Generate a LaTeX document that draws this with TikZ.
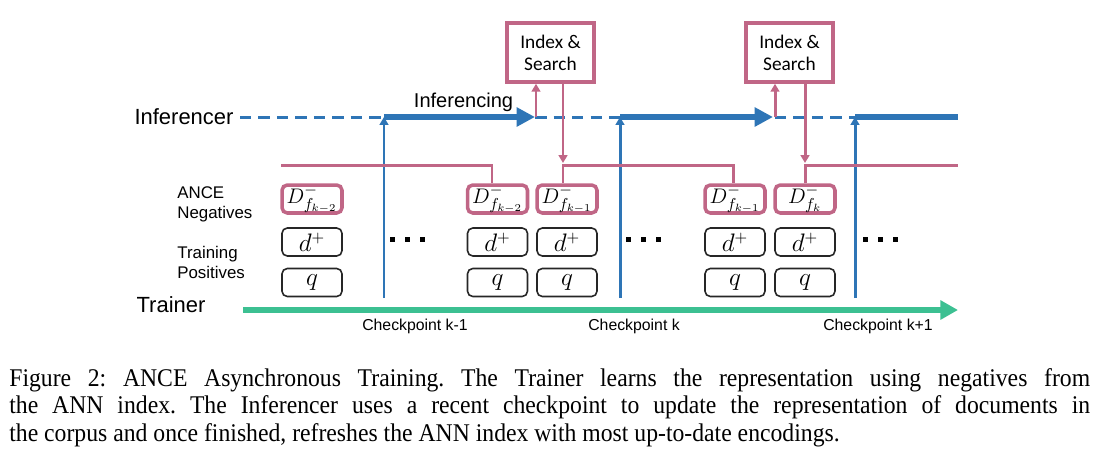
\documentclass[tikz,border=0pt]{standalone}
\usepackage{fontspec}
\setmainfont{Liberation Serif}
\newfontfamily\arialf{Liberation Sans}
\newfontfamily\calibf{Carlito}
\newfontfamily\capf[FakeStretch=0.93]{Liberation Serif}
\usetikzlibrary{arrows.meta}
\definecolor{iblue}{RGB}{46,117,182}
\definecolor{ipink}{RGB}{192,102,134}
\definecolor{igreen}{RGB}{60,192,146}
\frenchspacing
\tikzset{
  biglbl/.style={inner sep=0pt, anchor=base, font=\arialf\fontsize{12.5}{14}\selectfont},
  midlbl/.style={inner sep=0pt, anchor=base, font=\arialf\fontsize{11.4}{13}\selectfont},
  rowlbl/.style={inner sep=0pt, anchor=base west, font=\arialf\fontsize{9.6}{11}\selectfont},
  cplbl/.style={inner sep=0pt, anchor=base, font=\arialf\fontsize{9}{10}\selectfont},
  idxbox/.style={draw=ipink, line width=2pt, minimum width=1.74cm, minimum height=1.18cm,
     align=center, inner sep=0pt, font=\calibf\fontsize{11}{12.5}\selectfont},
  negbox/.style={draw=ipink, line width=2pt, rounded corners=3pt, minimum width=1.2cm,
     minimum height=0.56cm, inner sep=0pt, font=\fontsize{13}{15}\selectfont},
  posbox/.style={draw=black!85, line width=0.9pt, rounded corners=3pt, minimum width=1.2cm,
     minimum height=0.56cm, inner sep=0pt, font=\fontsize{13.5}{15}\selectfont},
  dashline/.style={draw=iblue, line width=1.7pt, dash pattern=on 6.5pt off 4pt},
  thickarr/.style={draw=iblue, line width=3.4pt, -{Triangle[length=10.5pt,width=10.5pt]}},
  thickline/.style={draw=iblue, line width=3.4pt},
  ckarr/.style={draw=iblue, line width=1.7pt, -{Triangle[length=4.5pt,width=5pt]}},
  pinkarr/.style={draw=ipink, line width=1.7pt, -{Triangle[length=4.5pt,width=5pt]}},
  pinkline/.style={draw=ipink, line width=1.7pt},
  trainarr/.style={draw=igreen, line width=3.4pt, -{Triangle[length=10pt,width=10.5pt]}},
  captxt/.style={inner sep=0pt, anchor=base west, font=\capf\fontsize{14.5}{15.4}\selectfont},
}
\begin{document}
\begin{tikzpicture}[x=0.02cm,y=-0.02cm]
\useasboundingbox (0,0) rectangle (1109,471);

% labels
\node[biglbl] (inf) at (184,124) {Inferencer};
\node[biglbl] (trn) at (171,312) {Trainer};
\node[midlbl] (infg) at (463.5,107) {Inferencing};
\node[rowlbl] (an1) at (177,198) {ANCE};
\node[rowlbl] (an2) at (177,218) {Negatives};
\node[rowlbl] (tp1) at (177,258) {Training};
\node[rowlbl] (tp2) at (177,278) {Positives};
\node[cplbl] (ck1) at (415,330) {Checkpoint k-1};
\node[cplbl] (ck2) at (634,330) {Checkpoint k};
\node[cplbl] (ck3) at (878,330) {Checkpoint k+1};

% index boxes
\node[idxbox] (idx1) at (550.5,52.5) {Index \&\\Search};
\node[idxbox] (idx2) at (789.5,52.5) {Index \&\\Search};

% negative boxes
\node[negbox] (dA) at (312,199) {$D^{-}_{f_{k-2}}$};
\node[negbox] (dB) at (497.5,199) {$D^{-}_{f_{k-2}}$};
\node[negbox] (dC) at (567,199) {$D^{-}_{f_{k-1}}$};
\node[negbox] (dD) at (735,199) {$D^{-}_{f_{k-1}}$};
\node[negbox] (dE) at (805,199) {$D^{-}_{f_{k}}$};
% positives
\foreach \n/\x in {A/312,B/497.5,C/567,D/735,E/805}{
  \node[posbox] (p\n) at (\x,242) {$d^{+}$};
  \node[posbox] (q\n) at (\x,282.5) {$q$};
}

% coordinates
\coordinate (dl0) at (240,117);
\coordinate (dl1) at (958,117);
\coordinate (c1b) at (384,298);
\coordinate (c1t) at (384,117);
\coordinate (c2b) at (620,298);
\coordinate (c2t) at (620,117);
\coordinate (c3b) at (855,298);
\coordinate (c3t) at (855,117);
\coordinate (t1) at (535,117);
\coordinate (t2) at (773,117);
\coordinate (u1) at (536,117);
\coordinate (u2) at (775,117);
\coordinate (p1) at (563,163);
\coordinate (p2) at (805,163);
\coordinate (br1s) at (281,165);
\coordinate (br1c) at (492,165);
\coordinate (br2c) at (563,165);
\coordinate (br2d) at (733,165);
\coordinate (br3c) at (805,165);
\coordinate (br3e) at (958,165);
\coordinate (g0) at (243,310);
\coordinate (g1) at (958,310);

% inferencer timeline
\draw[dashline] (dl0) -- (dl1);
\draw[thickarr] (c1t) -- (t1);
\draw[thickarr] (c2t) -- (t2);
\draw[thickline] (c3t) -- (dl1);
\draw[ckarr] (c1b) -- (c1t);
\draw[ckarr] (c2b) -- (c2t);
\draw[ckarr] (c3b) -- (c3t);

% pink flow
\draw[pinkarr] (u1) -- (u1 |- idx1.south);
\draw[pinkarr] (u2) -- (u2 |- idx2.south);
\draw[pinkarr] (p1 |- idx1.south) -- (p1);
\draw[pinkarr] (p2 |- idx2.south) -- (p2);
\draw[pinkline] (br1s) -- (br1c) -- (br1c |- dB.north);
\draw[pinkline] (br2c |- dC.north) -- (br2c) -- (br2d) -- (br2d |- dD.north);
\draw[pinkline] (br3c |- dE.north) -- (br3c) -- (br3e);

% trainer
\draw[trainarr] (g0) -- (g1);

% dots
\foreach \x in {390,405,420,626,641,656,863,878,893}{
  \fill (\x,237.3) rectangle +(5,4.5);
}

% caption
\node[captxt] (cap1) at (9,386) {\makebox[21.62cm][s]{Figure 2: ANCE Asynchronous Training. The Trainer learns the representation using negatives from}};
\node[captxt] (cap2) at (9,413.5) {\makebox[21.62cm][s]{the ANN index. The Inferencer uses a recent checkpoint to update the representation of documents in}};
\node[captxt] (cap3) at (9,441) {the corpus and once finished, refreshes the ANN index with most up-to-date encodings.};
\end{tikzpicture}
\end{document}
